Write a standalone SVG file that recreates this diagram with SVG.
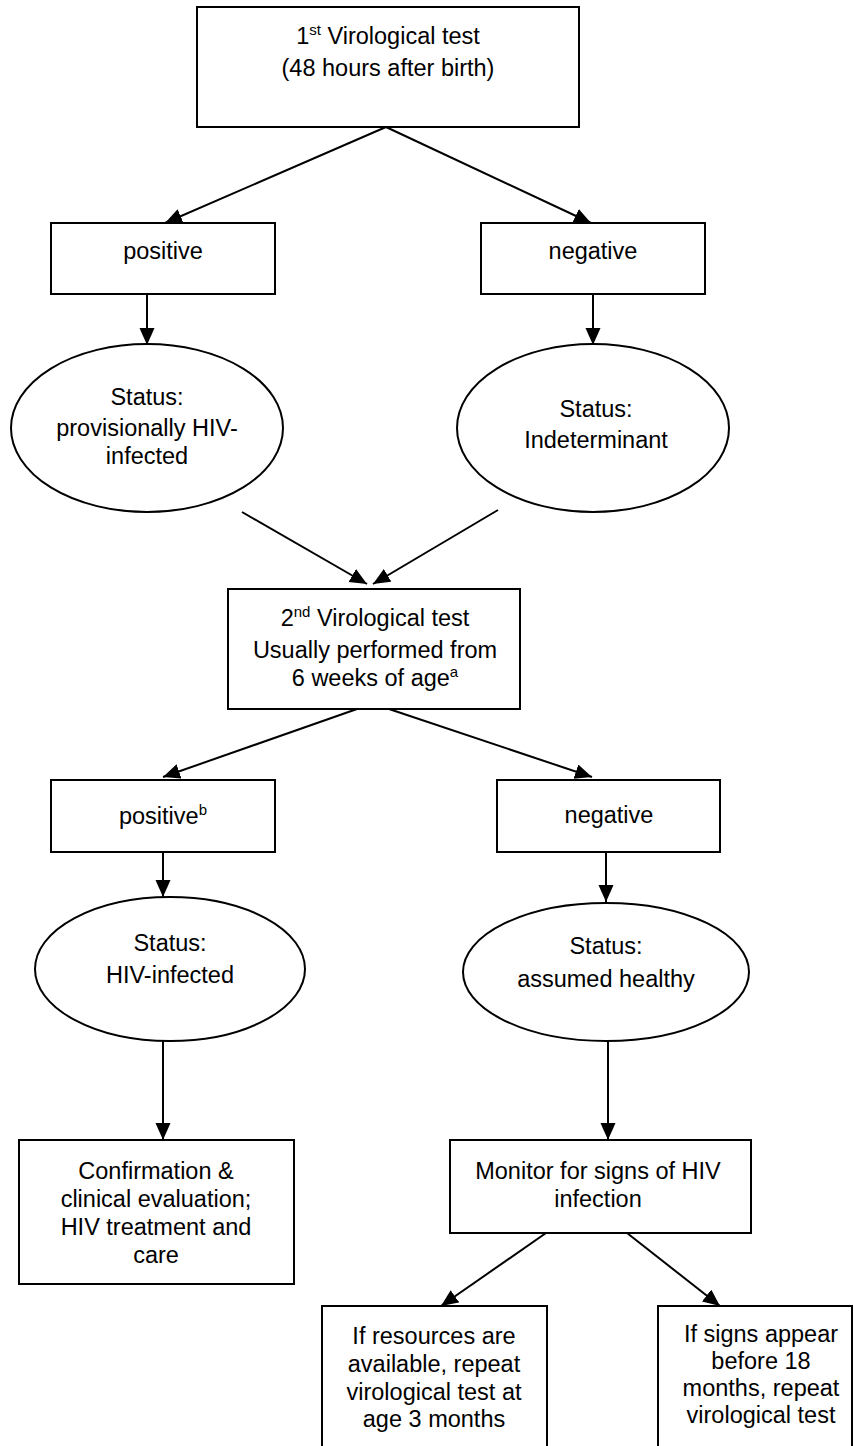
<svg xmlns="http://www.w3.org/2000/svg" width="854" height="1446" viewBox="0 0 854 1446">
<style>
.box{fill:#fff;stroke:#000;stroke-width:2}
.ell{fill:#fff;stroke:#000;stroke-width:2}
.edge{stroke:#000;stroke-width:2;fill:none;marker-end:url(#arr)}
text{font-family:"Liberation Sans",Arial,sans-serif;font-size:23.5px;fill:#000;text-anchor:middle}
.sup{font-size:15px}
</style>
<defs>
<marker id="arr" markerUnits="userSpaceOnUse" markerWidth="19" markerHeight="16" refX="17" refY="7.5" orient="auto">
<path d="M0,0 L17,7.5 L0,15 z" fill="#000"/>
</marker>
</defs>
<rect width="854" height="1446" fill="#fff"/>
<g id="connectors">
<line class="edge" x1="386" y1="127" x2="165" y2="223"/>
<line class="edge" x1="386" y1="127" x2="591" y2="223"/>
<line class="edge" x1="147" y1="294" x2="147" y2="345"/>
<line class="edge" x1="593" y1="294" x2="593" y2="345"/>
<line class="edge" x1="242" y1="512" x2="367" y2="584"/>
<line class="edge" x1="498" y1="510" x2="373" y2="584"/>
<line class="edge" x1="357" y1="709" x2="163" y2="777"/>
<line class="edge" x1="389" y1="709" x2="592" y2="777"/>
<line class="edge" x1="163" y1="852" x2="163" y2="897"/>
<line class="edge" x1="606" y1="852" x2="606" y2="902"/>
<line class="edge" x1="163" y1="1041" x2="163" y2="1140"/>
<line class="edge" x1="608" y1="1041" x2="608" y2="1140"/>
<line class="edge" x1="546" y1="1233" x2="441" y2="1306"/>
<line class="edge" x1="627" y1="1233" x2="720" y2="1306"/>
</g>
<g id="test1">
<rect class="box" x="197" y="7" width="382" height="120"/>
<text x="388" y="44">1<tspan class="sup" dy="-9">st</tspan><tspan dy="9"> Virological test</tspan></text>
<text x="388" y="76">(48 hours after birth)</text>
</g>
<g id="positive1">
<rect class="box" x="51" y="223" width="224" height="71"/>
<text x="163" y="259">positive</text>
</g>
<g id="negative1">
<rect class="box" x="481" y="223" width="224" height="71"/>
<text x="593" y="259">negative</text>
</g>
<g id="status-provisional">
<ellipse class="ell" cx="147" cy="428" rx="136" ry="84"/>
<text x="147" y="405">Status:</text>
<text x="147" y="436">provisionally HIV-</text>
<text x="147" y="464">infected</text>
</g>
<g id="status-indeterminant">
<ellipse class="ell" cx="593" cy="428" rx="136" ry="84"/>
<text x="596" y="417">Status:</text>
<text x="596" y="448">Indeterminant</text>
</g>
<g id="test2">
<rect class="box" x="228" y="589" width="292" height="120"/>
<text x="375" y="626">2<tspan class="sup" dy="-9">nd</tspan><tspan dy="9"> Virological test</tspan></text>
<text x="375" y="658">Usually performed from</text>
<text x="375" y="686">6 weeks of age<tspan class="sup" dy="-9">a</tspan></text>
</g>
<g id="positive2">
<rect class="box" x="51" y="780" width="224" height="72"/>
<text x="163" y="824">positive<tspan class="sup" dy="-9">b</tspan></text>
</g>
<g id="negative2">
<rect class="box" x="497" y="780" width="223" height="72"/>
<text x="609" y="823">negative</text>
</g>
<g id="status-infected">
<ellipse class="ell" cx="170" cy="969" rx="135" ry="72"/>
<text x="170" y="951">Status:</text>
<text x="170" y="983">HIV-infected</text>
</g>
<g id="status-healthy">
<ellipse class="ell" cx="606" cy="972" rx="143" ry="69"/>
<text x="606" y="954">Status:</text>
<text x="606" y="987">assumed healthy</text>
</g>
<g id="confirmation">
<rect class="box" x="19" y="1140" width="275" height="144"/>
<text x="156" y="1179">Confirmation &amp;</text>
<text x="156" y="1207">clinical evaluation;</text>
<text x="156" y="1235">HIV treatment and</text>
<text x="156" y="1263">care</text>
</g>
<g id="monitor">
<rect class="box" x="450" y="1140" width="301" height="93"/>
<text x="598" y="1179">Monitor for signs of HIV</text>
<text x="598" y="1207">infection</text>
</g>
<g id="repeat3months">
<rect class="box" x="322" y="1306" width="225" height="160"/>
<text x="434" y="1344">If resources are</text>
<text x="434" y="1372">available, repeat</text>
<text x="434" y="1400">virological test at</text>
<text x="434" y="1427">age 3 months</text>
</g>
<g id="repeat18months">
<rect class="box" x="658" y="1306" width="194" height="160"/>
<text x="761" y="1342">If signs appear</text>
<text x="761" y="1369">before 18</text>
<text x="761" y="1396">months, repeat</text>
<text x="761" y="1423">virological test</text>
</g>
</svg>
